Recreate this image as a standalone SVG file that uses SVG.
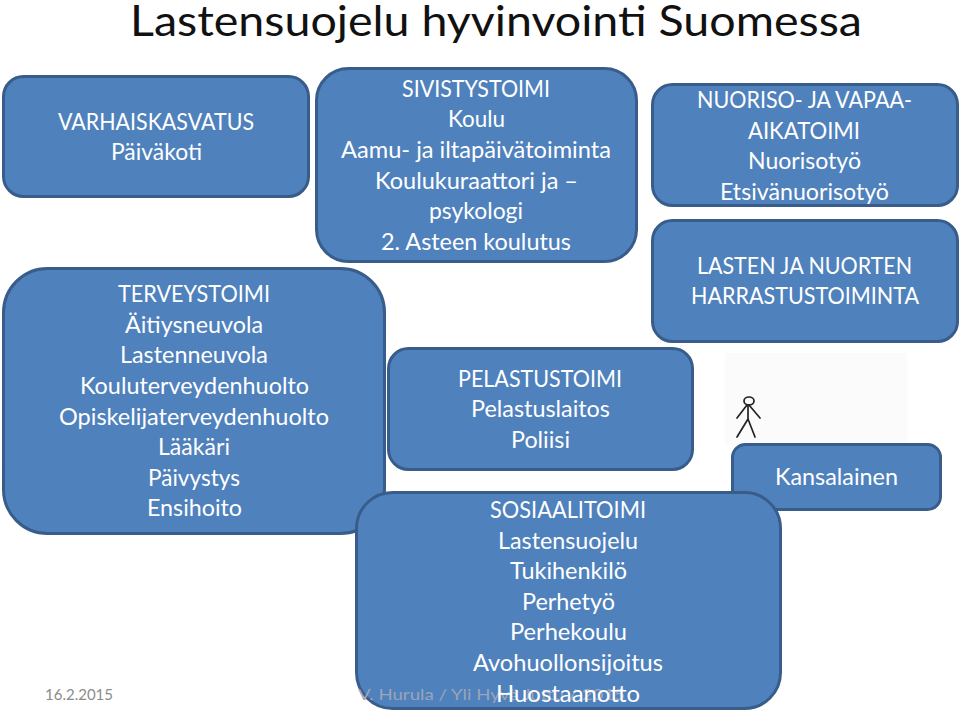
<svg xmlns="http://www.w3.org/2000/svg" width="960" height="716" viewBox="0 0 960 716">
<defs>
<style>
text{font-family:"Lato","Carlito","Liberation Sans",sans-serif;text-anchor:middle}
.box{fill:#4f81bd;stroke:#385d8a;stroke-width:3}
.t{fill:#fff;font-size:23px}
.f{font-size:15px}
.p{fill:none;stroke:#222;stroke-width:1.7;stroke-linecap:round;stroke-linejoin:round}
</style>
</defs>
<rect width="960" height="716" fill="#fff"/>
<text x="496" y="36" fill="#111" style="font-size:42px" textLength="732" lengthAdjust="spacingAndGlyphs">Lastensuojelu hyvinvointi Suomessa</text>
<g id="varhaiskasvatus">
<rect class="box" x="3.500" y="76.500" width="305" height="120" rx="20"/>
<text class="t" x="156" y="130" textLength="196" lengthAdjust="spacingAndGlyphs">VARHAISKASVATUS</text>
<text class="t" x="156.500" y="160" textLength="91" lengthAdjust="spacingAndGlyphs">Päiväkoti</text>
</g>
<g id="terveystoimi">
<rect class="box" x="3.500" y="268.500" width="381" height="265" rx="44"/>
<text class="t" x="194" y="302" textLength="152" lengthAdjust="spacingAndGlyphs">TERVEYSTOIMI</text>
<text class="t" x="194" y="333" textLength="138" lengthAdjust="spacingAndGlyphs">Äitiysneuvola</text>
<text class="t" x="194" y="363" textLength="148" lengthAdjust="spacingAndGlyphs">Lastenneuvola</text>
<text class="t" x="194.500" y="394" textLength="229" lengthAdjust="spacingAndGlyphs">Kouluterveydenhuolto</text>
<text class="t" x="194" y="425" textLength="270" lengthAdjust="spacingAndGlyphs">Opiskelijaterveydenhuolto</text>
<text class="t" x="194" y="455" textLength="72" lengthAdjust="spacingAndGlyphs">Lääkäri</text>
<text class="t" x="194" y="486" textLength="92" lengthAdjust="spacingAndGlyphs">Päivystys</text>
<text class="t" x="194.500" y="516" textLength="95" lengthAdjust="spacingAndGlyphs">Ensihoito</text>
</g>
<g id="sivistystoimi">
<rect class="box" x="316.500" y="68.500" width="320" height="193" rx="32"/>
<text class="t" x="476" y="97" textLength="148" lengthAdjust="spacingAndGlyphs">SIVISTYSTOIMI</text>
<text class="t" x="476.500" y="127" textLength="57" lengthAdjust="spacingAndGlyphs">Koulu</text>
<text class="t" x="476" y="158" textLength="270" lengthAdjust="spacingAndGlyphs">Aamu- ja iltapäivätoiminta</text>
<text class="t" x="476.500" y="189" textLength="203" lengthAdjust="spacingAndGlyphs">Koulukuraattori ja –</text>
<text class="t" x="476" y="219" textLength="94" lengthAdjust="spacingAndGlyphs">psykologi</text>
<text class="t" x="476" y="250" textLength="190" lengthAdjust="spacingAndGlyphs">2. Asteen koulutus</text>
</g>
<g id="pelastustoimi">
<rect class="box" x="388.500" y="348.500" width="304" height="121" rx="20"/>
<text class="t" x="540" y="387" textLength="164" lengthAdjust="spacingAndGlyphs">PELASTUSTOIMI</text>
<text class="t" x="540.500" y="417" textLength="139" lengthAdjust="spacingAndGlyphs">Pelastuslaitos</text>
<text class="t" x="540.500" y="448" textLength="59" lengthAdjust="spacingAndGlyphs">Poliisi</text>
</g>
<g id="nuoriso">
<rect class="box" x="652.500" y="84.500" width="305" height="121" rx="20"/>
<text class="t" x="804.500" y="108" textLength="215" lengthAdjust="spacingAndGlyphs">NUORISO- JA VAPAA-</text>
<text class="t" x="804" y="139" textLength="112" lengthAdjust="spacingAndGlyphs">AIKATOIMI</text>
<text class="t" x="804.500" y="169" textLength="113" lengthAdjust="spacingAndGlyphs">Nuorisotyö</text>
<text class="t" x="804.500" y="200" textLength="169" lengthAdjust="spacingAndGlyphs">Etsivänuorisotyö</text>
</g>
<g id="harrastus">
<rect class="box" x="652.500" y="220.500" width="305" height="121" rx="20"/>
<text class="t" x="804.500" y="274" textLength="215" lengthAdjust="spacingAndGlyphs">LASTEN JA NUORTEN</text>
<text class="t" x="805" y="304" textLength="228" lengthAdjust="spacingAndGlyphs">HARRASTUSTOIMINTA</text>
</g>
<g id="henkilo">
<rect x="725" y="353" width="182" height="92" fill="#fbfbfb"/>
<ellipse class="p" cx="749" cy="401" rx="5" ry="4"/>
<path class="p" d="M747 405 L737 418 M749 405 L760 418 M748 405 L748 419 L737 437 M748 419 L755 437"/>
</g>
<g id="kansalainen">
<rect class="box" x="732.500" y="444.500" width="208" height="65" rx="13"/>
<text class="t" x="836.500" y="485" textLength="123" lengthAdjust="spacingAndGlyphs">Kansalainen</text>
</g>
<g id="sosiaalitoimi">
<rect class="box" x="356.500" y="492.500" width="424" height="216" rx="36"/>
</g>
<text class="f" x="79" y="700" fill="#8b8b8b" textLength="68" lengthAdjust="spacingAndGlyphs">16.2.2015</text>
<text class="f" x="491.500" y="700" fill="#9aa5b8" textLength="267" lengthAdjust="spacingAndGlyphs">V. Hurula / Yli Hyvä Juttu / 2015</text>
<g id="sosiaalitoimi-teksti">
<text class="t" x="568" y="518" textLength="156" lengthAdjust="spacingAndGlyphs">SOSIAALITOIMI</text>
<text class="t" x="568" y="549" textLength="140" lengthAdjust="spacingAndGlyphs">Lastensuojelu</text>
<text class="t" x="568.500" y="579" textLength="117" lengthAdjust="spacingAndGlyphs">Tukihenkilö</text>
<text class="t" x="568.500" y="610" textLength="93" lengthAdjust="spacingAndGlyphs">Perhetyö</text>
<text class="t" x="568.500" y="640" textLength="117" lengthAdjust="spacingAndGlyphs">Perhekoulu</text>
<text class="t" x="568" y="671" textLength="190" lengthAdjust="spacingAndGlyphs">Avohuollonsijoitus</text>
<text class="t" x="568" y="702" textLength="144" lengthAdjust="spacingAndGlyphs">Huostaanotto</text>
</g>
<g id="connectors"/>
</svg>
